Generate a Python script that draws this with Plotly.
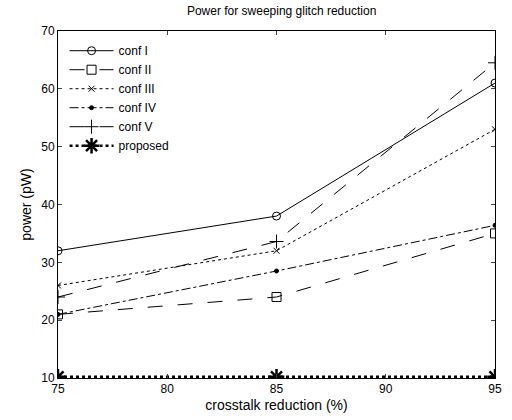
import plotly.graph_objects as go

x = [75, 85, 95]
conf_I = [32, 38, 61]
conf_II = [21, 24, 35]
conf_III = [26, 32, 53]
conf_IV = [21, 28.5, 36.4]
conf_V = [24, 33.6, 64.5]
proposed = [10.2, 10.2, 10.2]

series = [
    ("conf I", conf_I, "solid", "circle-open", 8),
    ("conf II", conf_II, "longdash", "square-open", 9),
    ("conf III", conf_III, "dot", "x-thin-open", 6),
    ("conf IV", conf_IV, "dashdot", "circle", 4),
    ("conf V", conf_V, "longdash", "cross-thin-open", 10),
]

fig = go.Figure()
for name, y, dash, sym, size in series:
    fig.add_trace(go.Scatter(
        x=x, y=y, name=name, mode="lines+markers",
        line=dict(color="black", width=1, dash=dash),
        marker=dict(symbol=sym, size=size, color="black",
                    line=dict(color="black", width=1)),
    ))
fig.add_trace(go.Scatter(
    x=x, y=proposed, name="proposed", mode="lines+markers",
    line=dict(color="black", width=2.5, dash="dot"),
    marker=dict(symbol="asterisk-open", size=13, color="black",
                line=dict(color="black", width=2.5)),
))

font = dict(family="Liberation Sans, Arial, sans-serif", size=12, color="black")
fig.update_layout(
    width=512, height=420,
    margin=dict(l=58, r=10, t=31, b=36),
    paper_bgcolor="white", plot_bgcolor="white",
    font=font,
    title=dict(text="Power for sweeping glitch reduction", x=0.55, xanchor="center",
               y=0.985, yanchor="top", font=dict(size=12)),
    showlegend=True,
    legend=dict(x=0.015, y=0.985, xanchor="left", yanchor="top",
                bgcolor="rgba(255,255,255,0)", borderwidth=0,
                font=dict(size=12), tracegroupgap=0, itemwidth=44),
)
fig.update_xaxes(
    range=[75, 95], tickvals=[75, 80, 85, 90, 95], ticks="inside", ticklen=4,
    showline=True, linecolor="black", linewidth=1, mirror="ticks",
    showgrid=False, zeroline=False,
    title=dict(text="crosstalk reduction (%)", standoff=4),
)
fig.update_yaxes(
    range=[10, 70], tickvals=[10, 20, 30, 40, 50, 60, 70], ticks="inside", ticklen=4,
    showline=True, linecolor="black", linewidth=1, mirror="ticks",
    showgrid=False, zeroline=False,
    title=dict(text="power (pW)", standoff=6),
)
fig.write_html("out.html")
